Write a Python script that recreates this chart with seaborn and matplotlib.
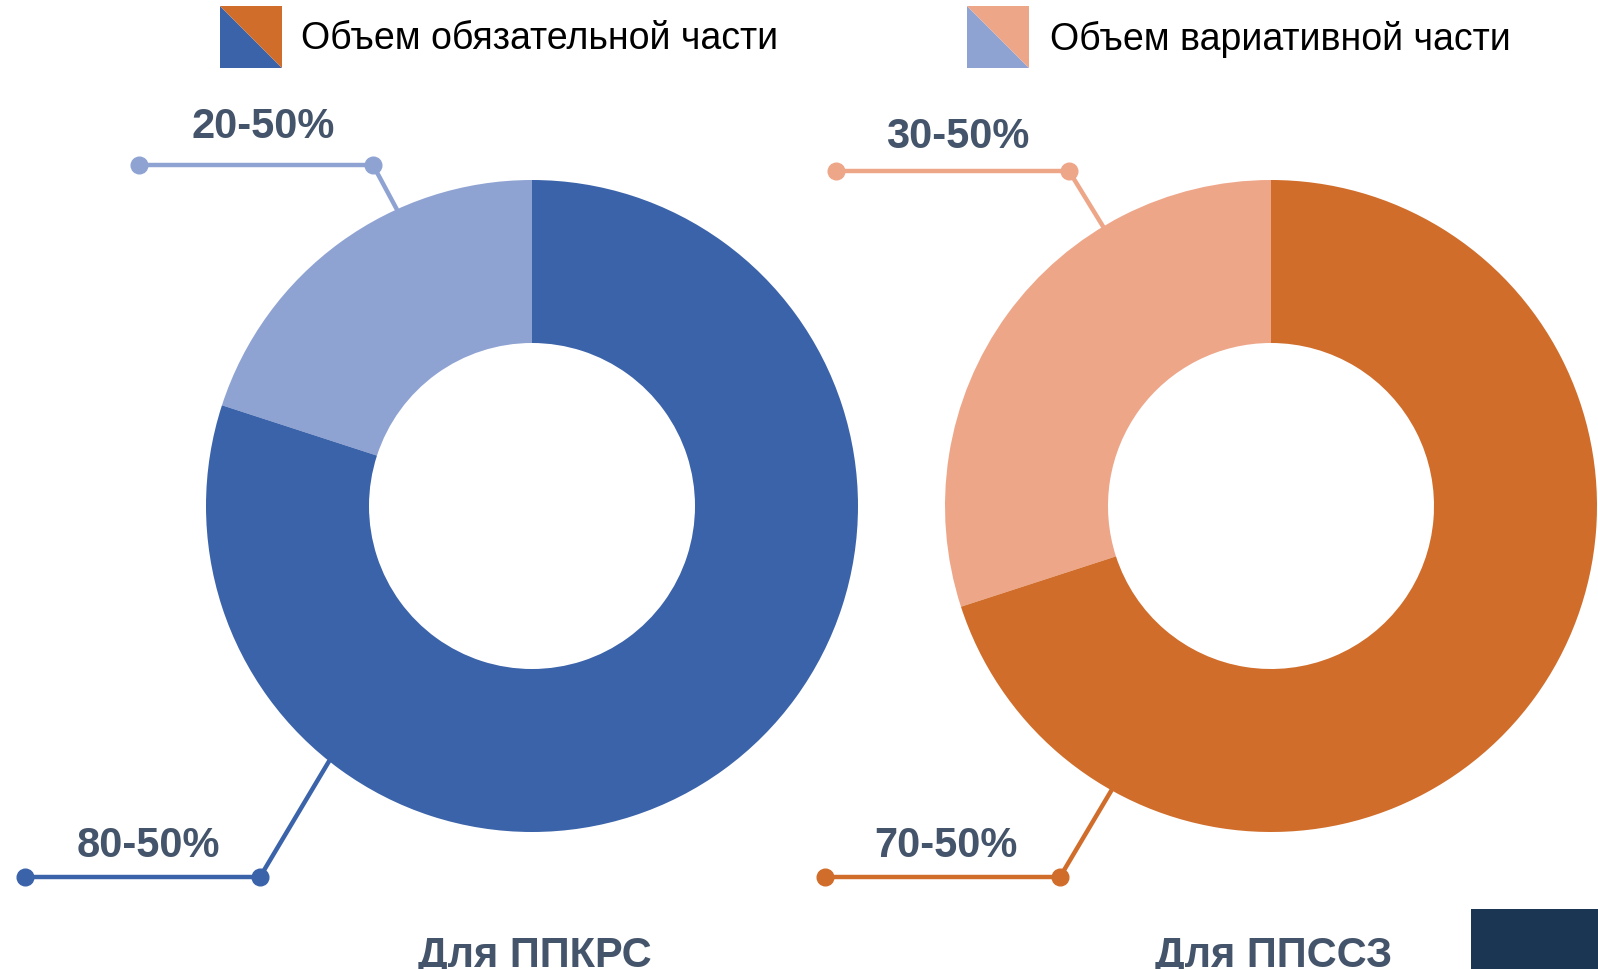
import numpy as np
import seaborn as sns
import matplotlib.pyplot as plt

# данные
programs = ['Для ППКРС', 'Для ППССЗ']
mandatory = [80, 70]
variable = [20, 30]
labels_mandatory = ['80-50%', '70-50%']
labels_variable = ['20-50%', '30-50%']
legend_labels = ['Объем обязательной части', 'Объем вариативной части']

# цвета
col_mand = ['#3B63AA', '#D16D2B']
col_var = ['#8FA3D3', '#EEA689']
col_text = '#44546A'

sns.set_theme(style='white')
plt.rcParams['font.family'] = ['Liberation Sans', 'DejaVu Sans']

fig = plt.figure(figsize=(15.98, 9.70), dpi=100)
ax = fig.add_axes([0, 0, 1, 1])

# раскладка (в пикселях, ось y вверх)
centers = [(532, 463), (1271, 463)]
radius = 326
# углы точек привязки выносок
ang_var = [114.5, 121]
ang_mand = [231.5, 240.7]
# выноски: (x левой точки, x излома, y линии, центр подписи x, y)
lead_var = [(139, 373, 804, 263, 843), (836, 1069, 798, 958, 833)]
lead_mand = [(25, 260, 92, 148, 124), (825, 1060, 92, 946, 124)]

for i, prog in enumerate(programs):
    ax.pie([variable[i], mandatory[i]], colors=[col_var[i], col_mand[i]],
           startangle=90, counterclock=True, center=centers[i], radius=radius,
           wedgeprops=dict(width=radius / 2, linewidth=0))

    for ang, lead, col, lab in [(ang_var[i], lead_var[i], col_var[i], labels_variable[i]),
                                (ang_mand[i], lead_mand[i], col_mand[i], labels_mandatory[i])]:
        ax_x = centers[i][0] + radius * np.cos(np.radians(ang))
        ax_y = centers[i][1] + radius * np.sin(np.radians(ang))
        x0, x1, yl, tx, ty = lead
        ax.plot([x0, x1, ax_x], [yl, yl, ax_y], color=col, lw=3.2, solid_capstyle='round')
        ax.plot([x0, x1], [yl, yl], 'o', color=col, ms=12)
        ax.text(tx, ty, lab, ha='center', va='center', fontsize=30,
                fontweight='bold', color=col_text)

    ax.text(centers[i][0] + 3, 3, prog, ha='center', va='baseline', fontsize=30,
            fontweight='bold', color=col_text)

# легенда
leg_x = [220, 967]
leg_text_x = [301, 1050]
for i, lab in enumerate(legend_labels):
    x0, y0, s = leg_x[i], 901, 62
    ax.fill([x0, x0 + s, x0], [y0 + s, y0, y0], color=[col_mand, col_var][i][0], lw=0)
    ax.fill([x0, x0 + s, x0 + s], [y0 + s, y0 + s, y0], color=[col_mand, col_var][i][1], lw=0)
    ax.text(leg_text_x[i], 931, lab, ha='left', va='center', fontsize=27, color='black')

# тёмный прямоугольник справа внизу
ax.fill([1471, 1598, 1598, 1471], [0, 0, 60, 60], color='#1B3652', lw=0)

ax.set_xlim(0, 1598)
ax.set_ylim(0, 970)
ax.set_aspect('equal')
ax.axis('off')

plt.savefig('out.png', dpi=100)
